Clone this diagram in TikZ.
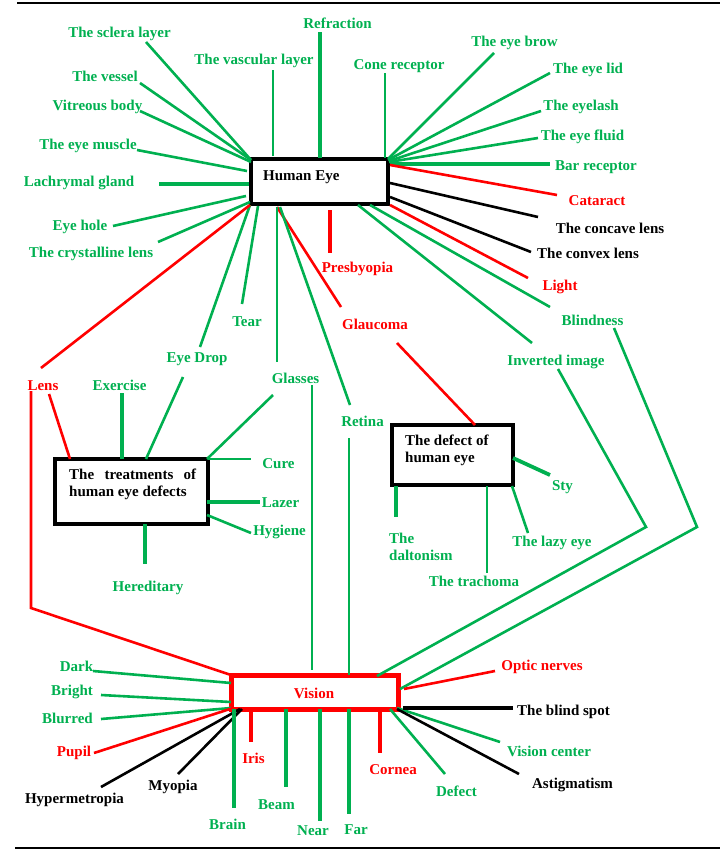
\documentclass[tikz,border=0pt]{standalone}
\usepackage{fontspec}
\setmainfont{Liberation Serif}
\definecolor{eg}{RGB}{0,176,80}
\definecolor{er}{RGB}{255,0,0}
\begin{document}
\begin{tikzpicture}[x=1pt,y=-1pt,
  lab/.style={font=\fontsize{15}{17}\selectfont\bfseries, inner sep=0pt, yshift=-1.5pt},
  gt/.style={lab,text=eg}, rt/.style={lab,text=er}, kt/.style={lab,text=black},
  gl/.style={draw=eg,line width=2.6pt}, glw/.style={draw=eg,line width=3.8pt},
  rl/.style={draw=er,line width=2.6pt}, rlw/.style={draw=er,line width=3.8pt},
  kl/.style={draw=black,line width=2.6pt}, klw/.style={draw=black,line width=3.8pt},
  rule/.style={draw=black,line width=1.4pt},
  box/.style={draw=black,line width=4pt,inner sep=0pt,outer sep=0pt}]
\useasboundingbox (0,0) rectangle (727,853);
% rules
\coordinate (tL) at (17,3); \coordinate (tR) at (720,3);
\coordinate (bL) at (15,848); \coordinate (bR) at (720,848);
\draw[rule] (tL) -- (tR);
\draw[rule] (bL) -- (bR);
% boxes
\node[box,minimum width=137pt,minimum height=45pt] (he) at (319.5,181.5) {};
\node[kt,anchor=west] (heT) at (263,176) {Human Eye};
\node[box,line width=4.5pt,minimum width=153pt,minimum height=65pt] (tr) at (131.5,491.5) {};
\node[kt,align=left,anchor=north west] (trT) at (69,467) {\makebox[127pt][s]{The treatments of}\\human eye defects};
\node[box,line width=4.5pt,minimum width=121pt,minimum height=60pt] (df) at (452.5,455) {};
\node[kt,align=left,anchor=north west] (dfT) at (405,433) {The defect of\\human eye};
\node[box,draw=er,line width=5pt,minimum width=167pt,minimum height=34pt] (vi) at (314.5,692) {};
\node[rt] (viT) at (314,692) {Vision};
% labels around Human Eye
\node[gt] (sclera) at (119.5,32) {The sclera layer};
\node[gt] (vessel) at (105,75) {The vessel};
\node[gt] (vitreous) at (97.5,105) {Vitreous body};
\node[gt] (muscle) at (88,144) {The eye muscle};
\node[gt] (lachry) at (79,181) {Lachrymal gland};
\node[gt] (eyehole) at (80,225) {Eye hole};
\node[gt] (cryst) at (91,252) {The crystalline lens};
\node[gt] (vascular) at (254,59) {The vascular layer};
\node[gt] (refr) at (337.5,22) {Refraction};
\node[gt] (cone) at (399,65) {Cone receptor};
\node[gt] (brow) at (514.5,41) {The eye brow};
\node[gt] (lid) at (588,68) {The eye lid};
\node[gt] (lash) at (581,105) {The eyelash};
\node[gt] (fluid) at (582.5,135) {The eye fluid};
\node[gt] (bar) at (596,166) {Bar receptor};
\node[rt] (catar) at (597,199) {Cataract};
\node[kt] (concave) at (610,227) {The concave lens};
\node[kt] (convex) at (588,252) {The convex lens};
\node[rt] (light) at (560,285) {Light};
\node[rt] (presb) at (357.5,267) {Presbyopia};
\node[rt] (glauc) at (375,323) {Glaucoma};
\node[gt] (blind) at (592.5,319) {Blindness};
\node[gt] (invert) at (556,360) {Inverted image};
\node[gt] (retina) at (362.5,420) {Retina};
\node[gt] (glasses) at (295.5,377) {Glasses};
\node[gt] (tear) at (247,320) {Tear};
\node[gt] (drop) at (197,358) {Eye Drop};
\node[rt] (lens) at (43,384) {Lens};
% treatments
\node[gt] (exer) at (119.5,384) {Exercise};
\node[gt] (cure) at (278.5,462) {Cure};
\node[gt] (lazer) at (280.5,501) {Lazer};
\node[gt] (hyg) at (279.5,530) {Hygiene};
\node[gt] (hered) at (148,586) {Hereditary};
% defect
\node[gt] (sty) at (562.5,486) {Sty};
\node[gt] (lazy) at (552,541) {The lazy eye};
\node[gt] (trach) at (474,580) {The trachoma};
\node[gt,align=left,anchor=north west] (dalt) at (389,531) {The\\daltonism};
% vision
\node[gt] (dark) at (76.5,665) {Dark};
\node[gt] (bright) at (72,690) {Bright};
\node[gt] (blurred) at (67.5,717) {Blurred};
\node[rt] (pupil) at (74,751) {Pupil};
\node[kt] (hyper) at (74.5,798) {Hypermetropia};
\node[kt] (myopia) at (173,785) {Myopia};
\node[gt] (brain) at (227.5,823) {Brain};
\node[rt] (iris) at (253.5,757) {Iris};
\node[gt] (beam) at (276.5,803) {Beam};
\node[gt] (near) at (313,829) {Near};
\node[gt] (far) at (356,828) {Far};
\node[rt] (cornea) at (393,768) {Cornea};
\node[gt] (defect) at (456.5,790) {Defect};
\node[gt] (vcenter) at (549,750) {Vision center};
\node[kt] (astig) at (572.5,783) {Astigmatism};
\node[kt] (bspot) at (563.5,710) {The blind spot};
\node[rt] (optic) at (542,665) {Optic nerves};
% ---------- connector coordinates ----------
% Human Eye
\coordinate (a1) at (146,42);  \coordinate (a1h) at (251,160);
\coordinate (a2) at (140,83);  \coordinate (a2h) at (251,160);
\coordinate (a3) at (140,111); \coordinate (a3h) at (251,162);
\coordinate (a4) at (137,150); \coordinate (a4h) at (247,171);
\coordinate (a5) at (159,184); \coordinate (a5h) at (249,184);
\coordinate (a6) at (113,226); \coordinate (a6h) at (246,196);
\coordinate (a7) at (158,242); \coordinate (a7h) at (250,202);
\coordinate (a8) at (273,70);  \coordinate (a8h) at (273,156);
\coordinate (a9) at (320,32);  \coordinate (a9h) at (320,158);
\coordinate (a10) at (385,73); \coordinate (a10h) at (385,158);
\coordinate (b1) at (494,53);  \coordinate (b1h) at (388,159);
\coordinate (b2) at (550,73);  \coordinate (b2h) at (388,160);
\coordinate (b3) at (541,111); \coordinate (b3h) at (389,161);
\coordinate (b4) at (538,138); \coordinate (b4h) at (389,162);
\coordinate (b5) at (550,164); \coordinate (b5h) at (390,164);
\coordinate (b6) at (557,195); \coordinate (b6h) at (390,165);
\coordinate (b7) at (538,217); \coordinate (b7h) at (390,183);
\coordinate (b8) at (531,252); \coordinate (b8h) at (390,197);
\coordinate (b9) at (528,278); \coordinate (b9h) at (390,205);
\coordinate (c1h) at (370,205); \coordinate (c1) at (550,307);
\coordinate (c1a) at (614,328); \coordinate (c1b) at (697,527); \coordinate (c1v) at (400,689);
\coordinate (c2h) at (358,205); \coordinate (c2) at (532,343);
\coordinate (c2a) at (558,369); \coordinate (c2b) at (646,527); \coordinate (c2v) at (377,676);
\coordinate (c3h) at (330,210); \coordinate (c3) at (330,253);
\coordinate (c4h) at (277,207); \coordinate (c4) at (341,307);
\coordinate (c4a) at (397,343); \coordinate (c4d) at (475,425);
\coordinate (c5h) at (280,207); \coordinate (c5) at (350,405);
\coordinate (c5a) at (349,438); \coordinate (c5v) at (349,675);
\coordinate (c6h) at (277,207); \coordinate (c6) at (277,362);
\coordinate (c6a) at (312,385); \coordinate (c6v) at (312,670);
\coordinate (c6b) at (273,395); \coordinate (c6t) at (207,459);
\coordinate (c7h) at (258,206); \coordinate (c7) at (242,304);
\coordinate (c8h) at (250,205); \coordinate (c8) at (200,347);
\coordinate (c8a) at (183,377); \coordinate (c8t) at (146,459);
\coordinate (c9h) at (250,205); \coordinate (c9) at (41,368);
\coordinate (c9a) at (49,394); \coordinate (c9t) at (70,459);
\coordinate (c9b) at (31,391); \coordinate (c9c) at (31,608); \coordinate (c9v) at (231,675);
% treatments
\coordinate (t1) at (122,393); \coordinate (t1b) at (122,459);
\coordinate (t2b) at (208,459); \coordinate (t2) at (251,459);
\coordinate (t3b) at (207,502); \coordinate (t3) at (260,502);
\coordinate (t4b) at (207,515); \coordinate (t4) at (251,533);
\coordinate (t5b) at (145,524); \coordinate (t5) at (145,564);
% defect
\coordinate (d1b) at (513,458); \coordinate (d1) at (550,475);
\coordinate (d2b) at (512,486); \coordinate (d2) at (528,533);
\coordinate (d3b) at (487,486); \coordinate (d3) at (487,573);
\coordinate (d4b) at (396,486); \coordinate (d4) at (396,517);
% vision
\coordinate (v1) at (93,671);  \coordinate (v1b) at (231,683);
\coordinate (v2) at (101,695); \coordinate (v2b) at (231,702);
\coordinate (v3) at (101,719); \coordinate (v3b) at (231,708);
\coordinate (v4) at (94,753);  \coordinate (v4b) at (233,708);
\coordinate (v5) at (101,787); \coordinate (v5b) at (240,709);
\coordinate (v6) at (178,774); \coordinate (v6b) at (242,709);
\coordinate (v7b) at (234,709); \coordinate (v7) at (234,808);
\coordinate (v8b) at (251,709); \coordinate (v8) at (251,742);
\coordinate (v9b) at (286,709); \coordinate (v9) at (286,787);
\coordinate (v10b) at (320,709); \coordinate (v10) at (320,821);
\coordinate (v11b) at (349,709); \coordinate (v11) at (349,814);
\coordinate (v12b) at (380,709); \coordinate (v12) at (380,753);
\coordinate (v13b) at (390,709); \coordinate (v13) at (445,774);
\coordinate (v14b) at (397,708); \coordinate (v14) at (500,742);
\coordinate (v15b) at (397,709); \coordinate (v15) at (519,774);
\coordinate (v16b) at (403,708); \coordinate (v16) at (513,708);
\coordinate (v17b) at (404,689); \coordinate (v17) at (495,671);
% ---------- connectors ----------
\draw[gl] (a1h) -- (a1);
\draw[gl] (a2h) -- (a2);
\draw[gl] (a3h) -- (a3);
\draw[gl] (a4h) -- (a4);
\draw[glw] (a5h) -- (a5);
\draw[gl] (a6h) -- (a6);
\draw[gl] (a7h) -- (a7);
\draw[gl] (a8h) -- (a8);
\draw[glw] (a9h) -- (a9);
\draw[gl] (a10h) -- (a10);
\draw[gl] (b1h) -- (b1);
\draw[gl] (b2h) -- (b2);
\draw[gl] (b3h) -- (b3);
\draw[gl] (b4h) -- (b4);
\draw[glw] (b5h) -- (b5);
\draw[rl] (b6h) -- (b6);
\draw[kl] (b7h) -- (b7);
\draw[kl] (b8h) -- (b8);
\draw[rl] (b9h) -- (b9);
\draw[gl] (c1h) -- (c1);
\draw[gl] (c1a) -- (c1b) -- (c1v);
\draw[gl] (c2h) -- (c2);
\draw[gl] (c2a) -- (c2b) -- (c2v);
\draw[rlw] (c3h) -- (c3);
\draw[rl] (c4h) -- (c4);
\draw[rl] (c4a) -- (c4d);
\draw[gl] (c5h) -- (c5);
\draw[gl] (c5a) -- (c5v);
\draw[gl] (c6h) -- (c6);
\draw[gl] (c6a) -- (c6v);
\draw[gl] (c6b) -- (c6t);
\draw[gl] (c7h) -- (c7);
\draw[gl] (c8h) -- (c8);
\draw[gl] (c8a) -- (c8t);
\draw[rl] (c9h) -- (c9);
\draw[rl] (c9a) -- (c9t);
\draw[rl] (c9b) -- (c9c) -- (c9v);
\draw[glw] (t1) -- (t1b);
\draw[gl] (t2b) -- (t2);
\draw[glw] (t3b) -- (t3);
\draw[gl] (t4b) -- (t4);
\draw[glw] (t5b) -- (t5);
\draw[glw] (d1b) -- (d1);
\draw[gl] (d2b) -- (d2);
\draw[gl] (d3b) -- (d3);
\draw[glw] (d4b) -- (d4);
\draw[gl] (v1) -- (v1b);
\draw[gl] (v2) -- (v2b);
\draw[gl] (v3) -- (v3b);
\draw[rl] (v4) -- (v4b);
\draw[kl] (v5) -- (v5b);
\draw[kl] (v6) -- (v6b);
\draw[glw] (v7b) -- (v7);
\draw[rlw] (v8b) -- (v8);
\draw[glw] (v9b) -- (v9);
\draw[glw] (v10b) -- (v10);
\draw[glw] (v11b) -- (v11);
\draw[rlw] (v12b) -- (v12);
\draw[gl] (v13b) -- (v13);
\draw[gl] (v14b) -- (v14);
\draw[kl] (v15b) -- (v15);
\draw[klw] (v16b) -- (v16);
\draw[rl] (v17b) -- (v17);
\end{tikzpicture}
\end{document}
